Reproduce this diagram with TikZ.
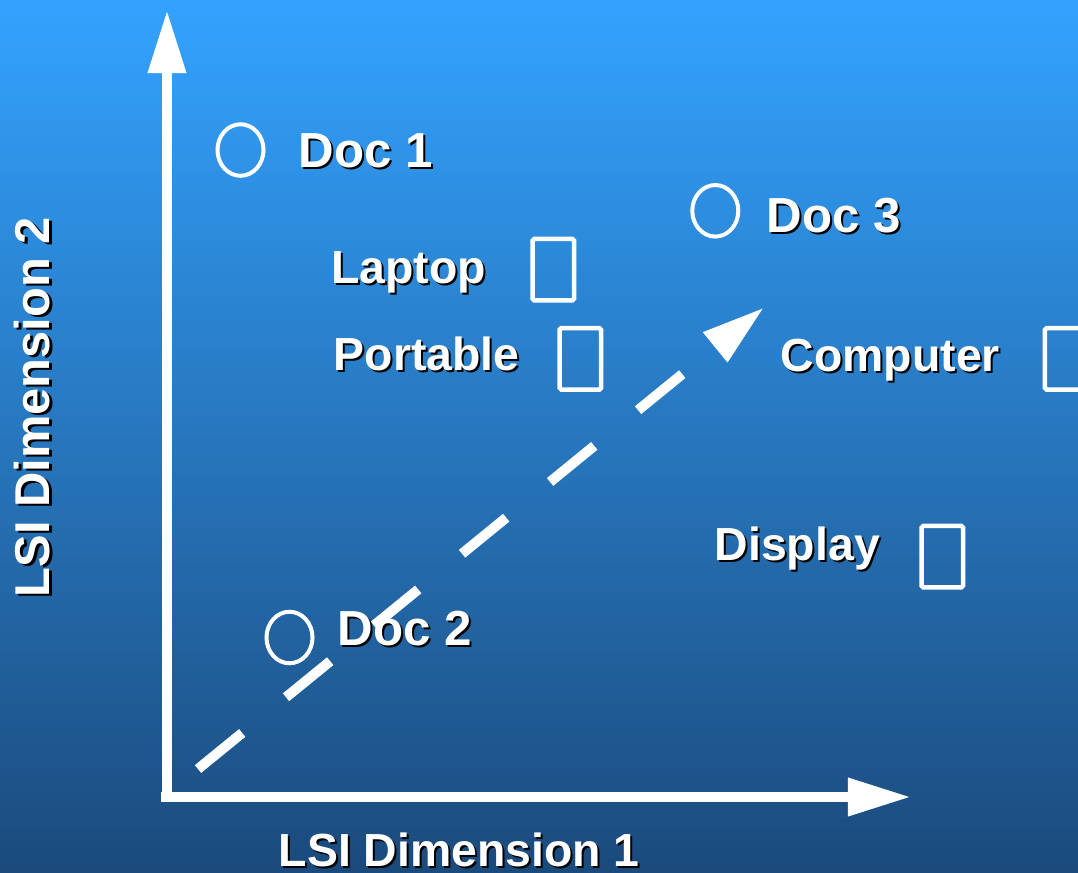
\documentclass[tikz,border=0pt]{standalone}
\usepackage{fontspec}
\setmainfont{Liberation Sans}
\usetikzlibrary{arrows.meta, calc, shapes.geometric}
\definecolor{bgTop}{HTML}{33A3FF}
\definecolor{bgMid}{HTML}{2882CE}
\definecolor{bgBot}{HTML}{1B4A7C}
\newcommand{\shlabel}[4][]{%
  \node[lbl, text=black, #1] (#2sh) at ($(#3)+(2,2)$) {#4};
  \node[lbl, #1] (#2) at (#3) {#4};}

\begin{document}
\begin{tikzpicture}[x=0.01cm, y=-0.01cm,
  lbl/.style={anchor=base west, inner sep=0pt, text=white, font=\fontsize{13.2pt}{15pt}\selectfont\bfseries},
  doclbl/.style={font=\fontsize{14pt}{16pt}\selectfont\bfseries},
  axis/.style={line width=0.1cm, white, -{Triangle[length=0.63cm, width=0.36cm]}},
  darrow/.style={axis, dash pattern=on 0.57cm off 0.565cm},
  docmark/.style={ellipse, draw=white, line width=0.04cm, minimum width=0.46cm, minimum height=0.515cm, inner sep=0pt},
  termbox/.style={draw=white, line width=0.045cm, rounded corners=0.5pt, minimum width=0.415cm, minimum height=0.615cm, inner sep=0pt}]
\useasboundingbox (0,0) rectangle (1078,872);
\clip (0,0) rectangle (1078,872);
\shade[top color=bgTop, middle color=bgMid, bottom color=bgBot] (0,0) rectangle (1078,872);
% axes
\coordinate (yorigin) at (167,802);
\coordinate (ytip) at (167,10);
\coordinate (xorigin) at (161,797);
\coordinate (xtip) at (911,797);
\draw[axis] (yorigin) -- (ytip);
\draw[axis] (xorigin) -- (xtip);
% query vector
\coordinate (qstart) at (198,769);
\coordinate (qtip) at (764,307.5);
\draw[darrow] (qstart) -- (qtip);
% documents and terms
\node[docmark] (doc1) at (240.5,150) {};
\node[docmark] (doc2) at (289.5,637.5) {};
\node[docmark] (doc3) at (715.3,210.8) {};
\node[termbox] (laptop) at (553.3,269.7) {};
\node[termbox] (portable) at (580.3,358.8) {};
\node[termbox] (computer) at (1065.7,358.8) {};
\node[termbox] (display) at (942.3,556.7) {};
% labels
\shlabel[doclbl]{doc1lbl}{298,167}{Doc 1}
\shlabel[doclbl]{doc3lbl}{766,232}{Doc 3}
\shlabel[doclbl]{doc2lbl}{337,645}{Doc 2}
\shlabel{laptoplbl}{330.5,283.3}{Laptop}
\shlabel{portablelbl}{333,370}{Portable}
\shlabel{computerlbl}{780,371.5}{Computer}
\shlabel{displaylbl}{714,560}{Display}
\shlabel{dimxlbl}{278,866.7}{LSI Dimension 1}
\shlabel[rotate=90, font=\fontsize{13.9pt}{16pt}\selectfont\bfseries]{dimylbl}{50,598}{LSI Dimension 2}
\end{tikzpicture}
\end{document}
